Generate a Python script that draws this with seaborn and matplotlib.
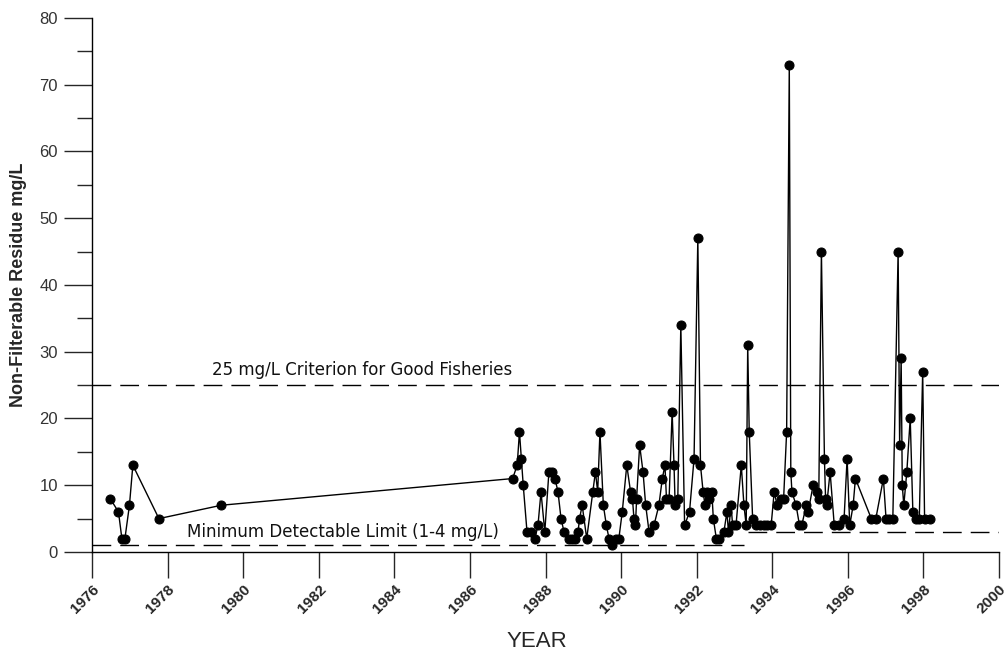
import numpy as np
import pandas as pd
import matplotlib
matplotlib.use("Agg")
import matplotlib.pyplot as plt
from matplotlib.ticker import MultipleLocator
import seaborn as sns

# sample dates (decimal year) and non-filterable residue (mg/L)
years = [
    1976.48, 1976.70, 1976.79, 1976.87, 1976.99, 1977.08, 1977.77, 1979.42,
    1987.13, 1987.25, 1987.31, 1987.36, 1987.41, 1987.51, 1987.62, 1987.72,
    1987.80, 1987.88, 1987.98, 1988.09, 1988.16, 1988.25, 1988.33, 1988.41,
    1988.49, 1988.62, 1988.71, 1988.79, 1988.86, 1988.90, 1988.97, 1989.09,
    1989.25, 1989.32, 1989.38, 1989.44, 1989.53, 1989.61, 1989.68, 1989.77,
    1989.86, 1989.94, 1990.03, 1990.15, 1990.25, 1990.30, 1990.34, 1990.38,
    1990.41, 1990.49, 1990.58, 1990.65, 1990.74, 1990.87, 1991.00, 1991.09,
    1991.16, 1991.20, 1991.27, 1991.35, 1991.40, 1991.43, 1991.50, 1991.58,
    1991.68, 1991.81, 1991.93, 1992.03, 1992.10, 1992.17, 1992.22, 1992.27,
    1992.33, 1992.40, 1992.44, 1992.52, 1992.60, 1992.72, 1992.80, 1992.84,
    1992.91, 1992.95, 1993.04, 1993.18, 1993.25, 1993.31, 1993.35, 1993.39,
    1993.48, 1993.57, 1993.67, 1993.77, 1993.87, 1993.97, 1994.05, 1994.13,
    1994.22, 1994.30, 1994.38, 1994.45, 1994.49, 1994.52, 1994.63, 1994.72,
    1994.78, 1994.90, 1994.95, 1995.08, 1995.19, 1995.23, 1995.30, 1995.38,
    1995.41, 1995.44, 1995.53, 1995.64, 1995.77, 1995.90, 1995.98, 1996.05,
    1996.14, 1996.20, 1996.62, 1996.74, 1996.94, 1997.01, 1997.10, 1997.19,
    1997.33, 1997.37, 1997.41, 1997.44, 1997.48, 1997.56, 1997.65, 1997.72,
    1997.81, 1997.89, 1997.98, 1998.03, 1998.17,
]
nfr = [
    8, 6, 2, 2, 7, 13, 5, 7,
    11, 13, 18, 14, 10, 3, 3, 2,
    4, 9, 3, 12, 12, 11, 9, 5,
    3, 2, 2, 2, 3, 5, 7, 2,
    9, 12, 9, 18, 7, 4, 2, 1,
    2, 2, 6, 13, 9, 8, 5, 4,
    8, 16, 12, 7, 3, 4, 7, 11,
    13, 8, 8, 21, 13, 7, 8, 34,
    4, 6, 14, 47, 13, 9, 7, 9,
    8, 9, 5, 2, 2, 3, 6, 3,
    7, 4, 4, 13, 7, 4, 31, 18,
    5, 4, 4, 4, 4, 4, 9, 7,
    8, 8, 18, 73, 12, 9, 7, 4,
    4, 7, 6, 10, 9, 8, 45, 14,
    8, 7, 12, 4, 4, 5, 14, 4,
    7, 11, 5, 5, 11, 5, 5, 5,
    45, 16, 29, 10, 7, 12, 20, 6,
    5, 5, 27, 5, 5,
]

# reference levels
criterion = 25
detect_lo, detect_lo_end = 1, 1993.25
detect_hi, detect_hi_start = 3, 1993.35

df = pd.DataFrame({"year": years, "nfr": nfr})

sns.set_style("ticks")
plt.rcParams["font.family"] = ["Liberation Sans", "DejaVu Sans"]

fig = plt.figure(figsize=(10.08, 6.54), dpi=100)
ax = fig.add_axes([0.0913, 0.156, 0.8998, 0.8165])

dash = (13.5, 6.5)
ax.plot([1976, 2000], [criterion, criterion], color="black", lw=1, dashes=dash)
ax.plot([1976, detect_lo_end], [detect_lo, detect_lo], color="black", lw=1, dashes=dash)
ax.plot([detect_hi_start, 2000], [detect_hi, detect_hi], color="black", lw=1, dashes=dash)

sns.lineplot(data=df, x="year", y="nfr", ax=ax, sort=False, color="black",
             lw=1, marker="o", markersize=6.5, markeredgecolor="black",
             markerfacecolor="black", estimator=None)

ax.text(1979.18, 27.2, "25 mg/L Criterion for Good Fisheries", fontsize=12,
        family="DejaVu Sans", va="center", ha="left", color="#111111")
ax.text(1978.5, 3.0, "Minimum Detectable Limit (1-4 mg/L)", fontsize=12,
        family="DejaVu Sans", va="center", ha="left", color="#111111")

ax.set_xlim(1976, 2000)
ax.set_ylim(0, 80)
ax.xaxis.set_major_locator(MultipleLocator(2))
ax.yaxis.set_major_locator(MultipleLocator(10))
ax.yaxis.set_minor_locator(MultipleLocator(5))

ax.tick_params(axis="y", which="major", length=20.5, width=1, labelsize=12,
               labelcolor="#333333", pad=4)
ax.tick_params(axis="y", which="minor", length=11, width=1)
ax.tick_params(axis="x", which="major", length=19, width=1, labelsize=11, pad=3)
for lab in ax.get_xticklabels():
    lab.set_rotation(45)
    lab.set_ha("right")
    lab.set_rotation_mode("anchor")
    lab.set_fontweight("bold")

ax.set_xlabel("YEAR", fontsize=16, labelpad=4)
ax.xaxis.set_label_coords(0.49, -0.148)
ax.set_ylabel("Non-Filterable Residue mg/L", fontsize=13, fontweight="bold", labelpad=9)

sns.despine(ax=ax)
ax.spines["left"].set_linewidth(1)
ax.spines["bottom"].set_linewidth(1)
ax.spines["left"].set_color("black")
ax.spines["bottom"].set_color("black")

fig.savefig("out.png", dpi=100)
